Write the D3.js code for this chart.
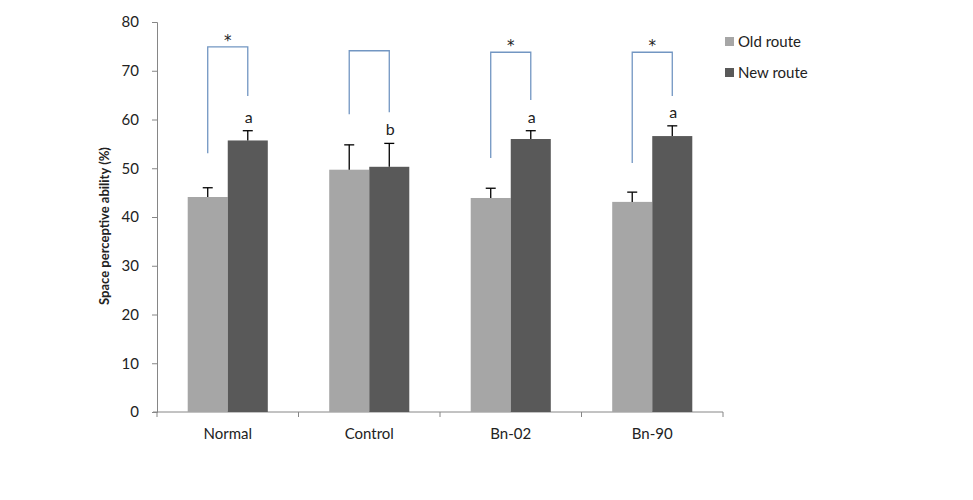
<!DOCTYPE html>
<html>
<head>
<meta charset="utf-8">
<script src="https://cdn.jsdelivr.net/npm/d3@7"></script>
<style>
  body { margin: 0; background: #fff; }
  svg text { font-family: Lato, "Open Sans", sans-serif; fill: #222; }
</style>
</head>
<body>
<div id="chart"></div>
<script>
// data
const groups = [`Normal`, `Control`, `Bn-02`, `Bn-90`];
const series = [`Old route`, `New route`];
const oldRoute = [44.1, 49.7, 43.9, 43.1];
const newRoute = [55.7, 50.3, 56.0, 56.6];
const oldErr = [1.9, 5.1, 2.0, 2.0];
const newErr = [2.0, 4.8, 1.7, 2.1];
const letters = [`a`, `b`, `a`, `a`];
const stars = [`*`, ``, `*`, `*`];
// bracket: top level, left leg end, right leg end (in axis units)
const bracketTop = [74.9, 74.1, 73.8, 73.8];
const bracketLeft = [53.1, 61.1, 52.1, 51.1];
const bracketRight = [64.8, 61.5, 64.0, 64.8];
const yTicks = [0, 10, 20, 30, 40, 50, 60, 70, 80];

const width = 973, height = 500;
const margin = { top: 22, right: 250, bottom: 88, left: 157 };
const colors = [`#a6a6a6`, `#595959`];

const svg = d3.select(`#chart`).append(`svg`)
  .attr(`width`, width)
  .attr(`height`, height);

const x = d3.scaleBand()
  .domain(groups)
  .range([margin.left, width - margin.right])
  .paddingInner(0)
  .paddingOuter(0);

const inner = x.bandwidth() * 0.217;
const x1 = d3.scaleBand()
  .domain(series)
  .range([inner, x.bandwidth() - inner]);

const y = d3.scaleLinear()
  .domain([0, 80])
  .range([height - margin.bottom, margin.top]);

// axes
const yAxis = svg.append(`g`)
  .attr(`transform`, `translate(${margin.left},0)`)
  .call(d3.axisLeft(y).tickValues(yTicks).tickSize(5).tickPadding(13));
yAxis.select(`.domain`).attr(`stroke`, `#868686`);
yAxis.selectAll(`.tick line`).attr(`stroke`, `#868686`);
yAxis.selectAll(`.tick text`).style(`font-size`, `15px`).attr(`fill`, `#333`);

const xAxis = svg.append(`g`)
  .attr(`transform`, `translate(0,${y(0)})`)
  .call(d3.axisBottom(x).tickSize(0).tickPadding(16));
xAxis.select(`.domain`).attr(`stroke`, `#868686`)
  .attr(`d`, `M${margin.left - 4},0H${width - margin.right}`);
xAxis.selectAll(`.tick text`).style(`font-size`, `15px`).attr(`fill`, `#333`);

// category boundary ticks
const bounds = groups.map((g) => x(g)).concat([x(groups[groups.length - 1]) + x.bandwidth()]);
svg.append(`g`).selectAll(`line`)
  .data(bounds)
  .enter().append(`line`)
    .attr(`x1`, (d) => d).attr(`x2`, (d) => d)
    .attr(`y1`, y(0)).attr(`y2`, y(0) + 5)
    .attr(`stroke`, `#868686`);

svg.append(`text`)
  .attr(`transform`, `translate(109,226) rotate(-90)`)
  .attr(`text-anchor`, `middle`)
  .style(`font-size`, `13px`)
  .style(`font-weight`, `bold`)
  .text(`Space perceptive ability (%)`);

// bars
const rows = groups.map((g, i) => ({
  group: g,
  vals: [
    { s: series[0], v: oldRoute[i], e: oldErr[i], c: colors[0] },
    { s: series[1], v: newRoute[i], e: newErr[i], c: colors[1] }
  ]
}));

const cat = svg.append(`g`).selectAll(`g`)
  .data(rows)
  .enter().append(`g`)
    .attr(`transform`, (d) => `translate(${x(d.group)},0)`);

cat.selectAll(`rect`)
  .data((d) => d.vals)
  .enter().append(`rect`)
    .attr(`x`, (d) => x1(d.s))
    .attr(`width`, x1.bandwidth())
    .attr(`y`, (d) => y(d.v))
    .attr(`height`, (d) => y(0) - y(d.v))
    .attr(`fill`, (d) => d.c);

const err = cat.selectAll(`.err`)
  .data((d) => d.vals)
  .enter().append(`g`)
    .attr(`class`, `err`);
err.append(`line`)
  .attr(`x1`, (d) => x1(d.s) + x1.bandwidth() / 2)
  .attr(`x2`, (d) => x1(d.s) + x1.bandwidth() / 2)
  .attr(`y1`, (d) => y(d.v))
  .attr(`y2`, (d) => y(d.v + d.e))
  .attr(`stroke`, `#000`).attr(`stroke-width`, 1.3);
err.append(`line`)
  .attr(`x1`, (d) => x1(d.s) + x1.bandwidth() / 2 - 5)
  .attr(`x2`, (d) => x1(d.s) + x1.bandwidth() / 2 + 5)
  .attr(`y1`, (d) => y(d.v + d.e))
  .attr(`y2`, (d) => y(d.v + d.e))
  .attr(`stroke`, `#000`).attr(`stroke-width`, 1.3);

// letters above new route bars
cat.append(`text`)
  .attr(`x`, x1(series[1]) + x1.bandwidth() / 2 + 1)
  .attr(`y`, (d, i) => y(newRoute[i] + newErr[i]) - 8)
  .attr(`text-anchor`, `middle`)
  .style(`font-size`, `16px`)
  .text((d, i) => letters[i]);

// brackets
const lx = x1(series[0]) + x1.bandwidth() / 2;
const rx = x1(series[1]) + x1.bandwidth() / 2;
cat.append(`path`)
  .attr(`d`, (d, i) => `M${lx},${y(bracketLeft[i])}V${y(bracketTop[i])}H${rx}V${y(bracketRight[i])}`)
  .attr(`fill`, `none`)
  .attr(`stroke`, `#7296c2`)
  .attr(`stroke-width`, 1.3);

cat.append(`text`)
  .attr(`x`, (lx + rx) / 2)
  .attr(`y`, (d, i) => y(bracketTop[i]) - 1)
  .attr(`text-anchor`, `middle`)
  .style(`font-family`, `"DejaVu Sans", sans-serif`)
  .style(`font-size`, `15px`)
  .text((d, i) => stars[i]);

// legend
const legend = svg.append(`g`).selectAll(`g`)
  .data(series)
  .enter().append(`g`)
    .attr(`transform`, (d, i) => `translate(725,${37 + i * 31})`);
legend.append(`rect`)
  .attr(`width`, 9).attr(`height`, 9)
  .attr(`fill`, (d, i) => colors[i]);
legend.append(`text`)
  .attr(`x`, 13).attr(`y`, 10)
  .style(`font-size`, `15px`)
  .attr(`fill`, `#333`)
  .text((d) => d);
</script>
</body>
</html>
